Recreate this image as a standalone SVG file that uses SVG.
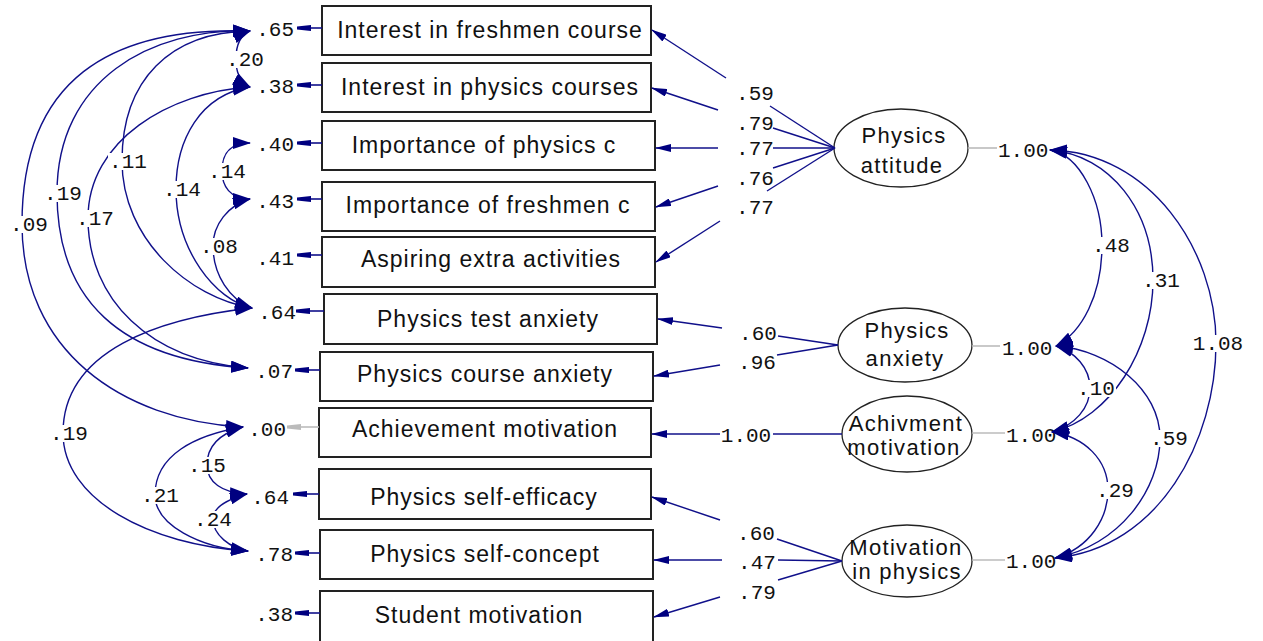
<svg xmlns="http://www.w3.org/2000/svg" width="1263" height="641" viewBox="0 0 1263 641">
<style>
.box{fill:#fff;stroke:#222;stroke-width:2}
.ell{fill:#fff;stroke:#222;stroke-width:1.3}
.bt{font-family:"Liberation Sans",Arial,sans-serif;font-size:23px;letter-spacing:1px;fill:#111;text-anchor:middle}
.et{font-family:"Liberation Sans",Arial,sans-serif;font-size:22px;letter-spacing:1.3px;fill:#111;text-anchor:middle}
.num{font-family:"Liberation Mono","Courier New",monospace;font-size:21px;fill:#111}
.mid{text-anchor:middle}
.end{text-anchor:end}
.c{fill:none;stroke:#10108a;stroke-width:1.4}
.cov{marker-start:url(#ah);marker-end:url(#ah)}
.ld{marker-end:url(#al)}
.err{fill:none;stroke:#10108a;stroke-width:1.6;marker-end:url(#ae)}
.errg{fill:none;stroke:#bbb;stroke-width:1.6;marker-end:url(#aeg)}
.gl{stroke:#bbb;stroke-width:1.6}
.lb{fill:#fff}
</style>
<defs>
<marker id="ah" markerUnits="userSpaceOnUse" viewBox="0 0 18 12" markerWidth="18" markerHeight="12" refX="17" refY="6" orient="auto-start-reverse"><path d="M0,0 L18,6 L0,12 z" fill="#000080"/></marker>
<marker id="al" markerUnits="userSpaceOnUse" viewBox="0 0 16 8" markerWidth="16" markerHeight="8" refX="15" refY="4" orient="auto"><path d="M0,0 L16,4 L0,8 z" fill="#000080"/></marker>
<marker id="ae" markerUnits="userSpaceOnUse" viewBox="0 0 14 7" markerWidth="14" markerHeight="7" refX="13" refY="3.5" orient="auto"><path d="M0,0.5 L14,2 L14,5 L0,6.5 z" fill="#000080"/></marker>
<marker id="aeg" markerUnits="userSpaceOnUse" viewBox="0 0 14 7" markerWidth="14" markerHeight="7" refX="13" refY="3.5" orient="auto"><path d="M0,0.5 L14,2 L14,5 L0,6.5 z" fill="#bbb"/></marker>
</defs>
<rect width="1263" height="641" fill="#fff"/>

<!-- observed variables -->
<g id="n-interest-freshmen"><rect class="box" x="322" y="6" width="329" height="49"/><text class="bt" x="490" y="38">Interest in freshmen course</text><path class="err" d="M322,28 L298,28"/><text class="num end" x="294" y="36">.65</text></g>
<g id="n-interest-physics"><rect class="box" x="322" y="63" width="329" height="49"/><text class="bt" x="490" y="95">Interest in physics courses</text><path class="err" d="M322,85 L298,85"/><text class="num end" x="294" y="93">.38</text></g>
<g id="n-importance-physics"><rect class="box" x="322" y="121" width="333" height="49"/><text class="bt" x="484" y="153">Importance of physics c</text><path class="err" d="M322,143 L298,143"/><text class="num end" x="294" y="151">.40</text></g>
<g id="n-importance-freshmen"><rect class="box" x="322" y="182" width="333" height="49"/><text class="bt" x="488" y="213">Importance of freshmen c</text><path class="err" d="M322,199 L298,199"/><text class="num end" x="294" y="208">.43</text></g>
<g id="n-aspiring"><rect class="box" x="322" y="237" width="333" height="50"/><text class="bt" x="491" y="267">Aspiring extra activities</text><path class="err" d="M322,255 L298,255"/><text class="num end" x="294" y="265">.41</text></g>
<g id="n-test-anxiety"><rect class="box" x="324" y="294" width="333" height="50"/><text class="bt" x="488" y="327">Physics test anxiety</text><path class="err" d="M324,311 L297,311"/><text class="num end" x="296" y="319">.64</text></g>
<g id="n-course-anxiety"><rect class="box" x="320" y="352" width="333" height="49"/><text class="bt" x="485" y="382">Physics course anxiety</text><path class="err" d="M320,370 L296,370"/><text class="num end" x="293" y="378">.07</text></g>
<g id="n-achievement"><rect class="box" x="319" y="408" width="332" height="49"/><text class="bt" x="485" y="437">Achievement motivation</text><path class="errg" d="M319,427 L288,427"/><text class="num end" x="286" y="436">.00</text></g>
<g id="n-self-efficacy"><rect class="box" x="319" y="469" width="332" height="50"/><text class="bt" x="484" y="505">Physics self-efficacy</text><path class="err" d="M319,494 L294,494"/><text class="num end" x="289" y="504">.64</text></g>
<g id="n-self-concept"><rect class="box" x="320" y="530" width="333" height="49"/><text class="bt" x="485" y="562">Physics self-concept</text><path class="err" d="M320,553 L296,553"/><text class="num end" x="293" y="561">.78</text></g>
<g id="n-student-motivation"><rect class="box" x="320" y="591" width="333" height="60"/><text class="bt" x="479" y="623">Student motivation</text><path class="err" d="M320,613 L296,613"/><text class="num end" x="293" y="621">.38</text></g>

<!-- latent variables -->
<g id="n-physics-attitude"><ellipse class="ell" cx="901" cy="148" rx="67" ry="39"/><text class="et" x="904" y="143">Physics</text><text class="et" x="902" y="173">attitude</text><line class="gl" x1="968" y1="148" x2="997" y2="148"/><text class="num" x="998" y="157">1.00</text></g>
<g id="n-physics-anxiety"><ellipse class="ell" cx="905" cy="345" rx="67" ry="37"/><text class="et" x="907" y="338">Physics</text><text class="et" x="905" y="366">anxiety</text><line class="gl" x1="972" y1="346" x2="1000" y2="346"/><text class="num" x="1002" y="355">1.00</text></g>
<g id="n-achivment"><ellipse class="ell" cx="907" cy="434" rx="65" ry="38"/><text class="et" x="906" y="431">Achivment</text><text class="et" x="904" y="455">motivation</text><line class="gl" x1="972" y1="433" x2="1005" y2="433"/><text class="num" x="1006" y="442">1.00</text></g>
<g id="n-motivation-physics"><ellipse class="ell" cx="907" cy="561" rx="65" ry="36"/><text class="et" x="906" y="555">Motivation</text><text class="et" x="907" y="579">in physics</text><line class="gl" x1="972" y1="560" x2="1005" y2="560"/><text class="num" x="1006" y="568">1.00</text></g>

<!-- connectors -->
<g id="connectors">
<!-- loadings: Physics attitude -->
<path class="c" d="M835,148 L770,106"/><path class="c ld" d="M726,78 L652,30"/>
<path class="c" d="M835,148 L773,128"/><path class="c ld" d="M718,110 L652,88"/>
<path class="c" d="M835,148 L773,148"/><path class="c ld" d="M718,148 L656,148"/>
<path class="c" d="M835,148 L773,168"/><path class="c ld" d="M718,186 L656,207"/>
<path class="c" d="M835,148 L767,191"/><path class="c ld" d="M720,221 L656,262"/>
<!-- loadings: Physics anxiety -->
<path class="c" d="M838,345 L778,336"/><path class="c ld" d="M722,328 L658,319"/>
<path class="c" d="M838,345 L777,355"/><path class="c ld" d="M720,365 L654,376"/>
<!-- loading: Achivment motivation -->
<path class="c" d="M842,434 L773,434"/><path class="c ld" d="M720,434 L652,434"/>
<!-- loadings: Motivation in physics -->
<path class="c" d="M842,561 L777,539"/><path class="c ld" d="M720,520 L652,497"/>
<path class="c" d="M842,561 L778,560"/><path class="c ld" d="M722,560 L654,560"/>
<path class="c" d="M842,561 L778,580"/><path class="c ld" d="M720,597 L654,617"/>

<!-- latent covariances -->
<path class="c cov" d="M1050,150 C1080,155 1102,200 1102,245 C1102,295 1082,332 1056,346"/>
<path class="c cov" d="M1050,150 C1110,155 1153,210 1153,280 C1153,350 1110,418 1052,432"/>
<path class="c cov" d="M1050,150 C1150,152 1216,250 1216,343 C1216,440 1160,548 1055,558"/>
<path class="c cov" d="M1056,346 C1075,352 1090,368 1090,388 C1090,408 1075,425 1052,432"/>
<path class="c cov" d="M1056,346 C1110,350 1160,390 1160,438 C1160,490 1120,545 1055,558"/>
<path class="c cov" d="M1052,432 C1085,437 1108,460 1108,490 C1108,518 1090,548 1055,558"/>

<!-- error covariances -->
<path class="c cov" d="M250,31 C238,36 236,48 236,59 C236,70 238,80 250,87"/>
<path class="c cov" d="M250,143 C228,143 222,155 222,171 C222,186 230,199 250,199"/>
<path class="c cov" d="M250,199 C228,205 213,225 213,246 C213,275 230,300 252,308"/>
<path class="c cov" d="M250,87 C200,95 176,140 176,189 C176,250 215,300 252,308"/>
<path class="c cov" d="M250,31 C170,32 122,80 122,161 C122,240 190,298 252,308"/>
<path class="c cov" d="M250,87 C170,92 88,140 88,218 C88,300 150,360 248,368"/>
<path class="c cov" d="M250,31 C150,28 57,80 57,193 C57,300 120,360 248,368"/>
<path class="c cov" d="M250,31 C110,26 22,80 22,224 C22,350 120,420 243,427"/>
<path class="c cov" d="M252,308 C160,318 63,350 63,433 C63,500 150,545 248,551"/>
<path class="c cov" d="M243,427 C195,435 155,455 155,495 C155,525 200,548 248,551"/>
<path class="c cov" d="M243,427 C215,435 207,450 207,465 C207,482 222,493 247,494"/>
<path class="c cov" d="M247,494 C225,500 213,508 213,519 C213,535 230,548 248,551"/>
</g>

<!-- connector labels -->
<g id="labels">
<text class="num mid" x="755" y="100">.59</text>
<text class="num mid" x="755" y="130">.79</text>
<text class="num mid" x="755" y="155">.77</text>
<text class="num mid" x="755" y="185">.76</text>
<text class="num mid" x="755" y="214">.77</text>
<text class="num mid" x="758" y="340">.60</text>
<text class="num mid" x="757" y="369">.96</text>
<text class="num mid" x="746" y="442">1.00</text>
<text class="num mid" x="756" y="540">.60</text>
<text class="num mid" x="757" y="569">.47</text>
<text class="num mid" x="757" y="599">.79</text>

<rect class="lb" x="1091" y="237" width="40" height="17"/><text class="num mid" x="1111" y="252">.48</text>
<rect class="lb" x="1141" y="272" width="40" height="17"/><text class="num mid" x="1161" y="287">.31</text>
<rect class="lb" x="1191" y="335" width="54" height="17"/><text class="num mid" x="1218" y="350">1.08</text>
<rect class="lb" x="1076" y="380" width="40" height="17"/><text class="num mid" x="1096" y="395">.10</text>
<rect class="lb" x="1149" y="430" width="40" height="17"/><text class="num mid" x="1169" y="445">.59</text>
<rect class="lb" x="1095" y="482" width="40" height="17"/><text class="num mid" x="1115" y="497">.29</text>

<rect class="lb" x="225" y="51" width="40" height="17"/><text class="num mid" x="245" y="66">.20</text>
<rect class="lb" x="207" y="163" width="40" height="17"/><text class="num mid" x="227" y="178">.14</text>
<rect class="lb" x="108" y="153" width="40" height="17"/><text class="num mid" x="128" y="168">.11</text>
<rect class="lb" x="162" y="181" width="40" height="17"/><text class="num mid" x="182" y="196">.14</text>
<rect class="lb" x="43" y="185" width="40" height="17"/><text class="num mid" x="63" y="200">.19</text>
<rect class="lb" x="75" y="210" width="40" height="17"/><text class="num mid" x="95" y="225">.17</text>
<rect class="lb" x="9" y="216" width="40" height="17"/><text class="num mid" x="29" y="231">.09</text>
<rect class="lb" x="199" y="238" width="40" height="17"/><text class="num mid" x="219" y="253">.08</text>
<rect class="lb" x="49" y="425" width="40" height="17"/><text class="num mid" x="69" y="440">.19</text>
<rect class="lb" x="140" y="487" width="40" height="17"/><text class="num mid" x="160" y="502">.21</text>
<rect class="lb" x="187" y="457" width="40" height="17"/><text class="num mid" x="207" y="472">.15</text>
<rect class="lb" x="193" y="511" width="40" height="17"/><text class="num mid" x="213" y="526">.24</text>
</g>
</svg>
